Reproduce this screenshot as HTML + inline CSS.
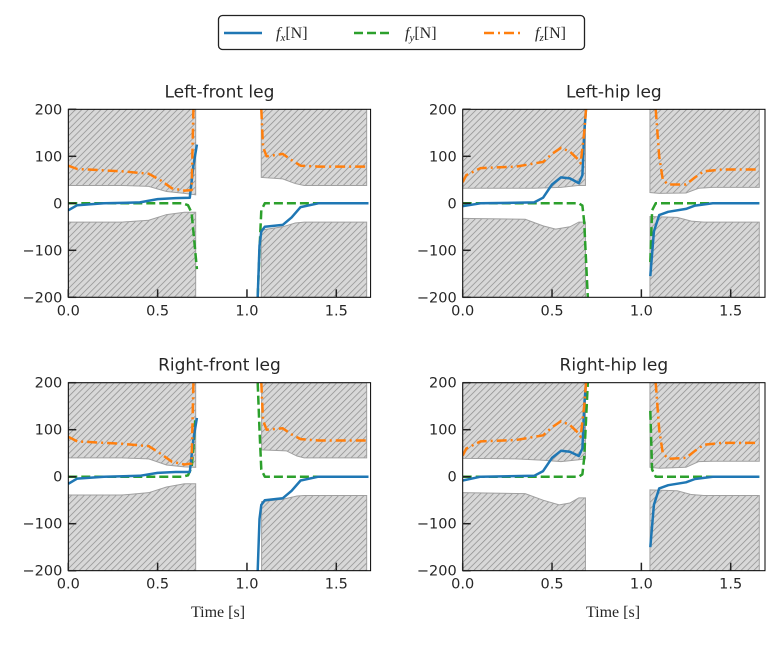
<!DOCTYPE html>
<html><head><meta charset="utf-8"><style>
body{margin:0;background:#fff}
svg text{font-family:"DejaVu Sans","Liberation Sans",sans-serif;fill:#262626}
.ser{font-family:"Liberation Serif","DejaVu Serif",serif}
</style></head><body>
<svg id="fig" width="781" height="642" viewBox="0 0 781 642" xmlns="http://www.w3.org/2000/svg">
<defs>
<pattern id="hatch" patternUnits="userSpaceOnUse" width="4.5" height="4.5" patternTransform="rotate(45)">
<rect width="4.5" height="4.5" fill="#d8d8d8"/><line x1="0" y1="0" x2="0" y2="4.5" stroke="#8a8a8a" stroke-width="1.4"/>
</pattern>
</defs>
<g>
<rect x="218.5" y="15.5" width="366" height="34" rx="4" fill="#fff" stroke="#222" stroke-width="1.3"/>
<g><line x1="224" y1="33" x2="262" y2="33" stroke="#1f77b4" stroke-width="2.5"/><text class="ser" x="276" y="38" font-size="16"><tspan font-style="italic">f</tspan><tspan font-style="italic" font-size="11" dy="3">x</tspan><tspan dy="-3">[N]</tspan></text></g>
<g><line x1="354" y1="33" x2="392" y2="33" stroke="#2ca02c" stroke-width="2.5" stroke-dasharray="9,4"/><text class="ser" x="405" y="38" font-size="16"><tspan font-style="italic">f</tspan><tspan font-style="italic" font-size="11" dy="3">y</tspan><tspan dy="-3">[N]</tspan></text></g>
<g><line x1="484" y1="33" x2="522" y2="33" stroke="#ff7f0e" stroke-width="2.5" stroke-dasharray="10,4,2,4"/><text class="ser" x="535" y="38" font-size="16"><tspan font-style="italic">f</tspan><tspan font-style="italic" font-size="11" dy="3">z</tspan><tspan dy="-3">[N]</tspan></text></g>
</g>
<text class="ser" x="218" y="617" font-size="16" text-anchor="middle">Time [s]</text>
<text class="ser" x="613" y="617" font-size="16" text-anchor="middle">Time [s]</text>
</svg>
<script>
// ---- data (time [s], force [N]) ----
const xTicks = [0, 0.5, 1.0, 1.5];
const xTickLabels = ["0.0", "0.5", "1.0", "1.5"];
const yTicks = [-200, -100, 0, 100, 200];
const yTickLabels = ["\u2212200", "\u2212100", "0", "100", "200"];
const titles = ["Left-front leg", "Left-hip leg", "Right-front leg", "Right-hip leg"];

const lfUp1 = [[0,38],[0.3,38],[0.45,36],[0.55,25],[0.65,21],[0.713,18]];
const lfLo1 = [[0,-40],[0.3,-40],[0.45,-36],[0.55,-24],[0.65,-19],[0.713,-19]];
const lfUp2 = [[1.08,55],[1.2,52],[1.27,42],[1.32,38],[1.67,38]];
const lfLo2 = [[1.08,-57],[1.2,-50],[1.27,-42],[1.32,-40],[1.67,-40]];
const lfFx = [[0,-15],[0.05,-4],[0.2,0],[0.4,2],[0.5,9],[0.6,11],[0.68,12],[0.7,80],[0.72,125],[null,null],[1.06,-200],[1.07,-90],[1.08,-60],[1.1,-50],[1.2,-46],[1.25,-30],[1.3,-8],[1.4,0],[1.68,0]];
const lfFy = [[0,0],[0.64,0],[0.67,-4],[0.69,-20],[0.7,-60],[0.72,-140],[null,null],[1.06,-200],[1.07,-100],[1.08,-15],[1.1,0],[1.68,0]];
const lfFz = [[0,80],[0.05,73],[0.3,68],[0.45,63],[0.52,48],[0.58,32],[0.65,27],[0.69,28],[0.7,200],[null,null],[1.08,200],[1.09,120],[1.11,100],[1.2,105],[1.25,92],[1.3,80],[1.4,78],[1.68,78]];

const lhUp1 = [[0,32],[0.4,32],[0.55,34],[0.65,38],[0.687,38]];
const lhLo1 = [[0,-32],[0.35,-34],[0.45,-48],[0.52,-55],[0.6,-50],[0.65,-40],[0.687,-40]];
const lhUp2 = [[1.048,23],[1.1,21],[1.25,22],[1.32,32],[1.4,34],[1.66,34]];
const lhLo2 = [[1.048,-28],[1.2,-30],[1.28,-38],[1.35,-40],[1.66,-40]];
const lhFx = [[0,-6],[0.1,0],[0.4,2],[0.45,12],[0.5,40],[0.55,55],[0.6,53],[0.65,43],[0.67,60],[0.68,150],[0.69,200],[null,null],[1.05,-155],[1.07,-60],[1.1,-25],[1.15,-18],[1.25,-12],[1.3,-5],[1.4,0],[1.66,0]];
const lhFy = [[0,0],[0.65,0],[0.67,-5],[0.68,-40],[0.69,-120],[0.7,-200],[null,null],[1.05,-125],[1.06,-15],[1.08,0],[1.66,0]];
const lhFz = [[0,45],[0.02,60],[0.1,75],[0.3,78],[0.45,88],[0.5,105],[0.55,118],[0.6,110],[0.65,92],[0.66,85],[0.68,150],[0.69,200],[null,null],[1.08,200],[1.1,100],[1.12,50],[1.15,40],[1.25,40],[1.3,55],[1.35,68],[1.45,72],[1.66,72]];

const rfUp1 = [[0,40],[0.3,40],[0.45,38],[0.55,25],[0.65,21],[0.713,20]];
const rfLo1 = [[0,-39],[0.3,-39],[0.45,-34],[0.55,-22],[0.65,-15],[0.713,-15]];
const rfUp2 = [[1.082,57],[1.22,55],[1.28,44],[1.32,40],[1.67,40]];
const rfLo2 = [[1.082,-53],[1.2,-48],[1.28,-41],[1.32,-40],[1.67,-40]];
const rfFx = [[0,-15],[0.05,-4],[0.2,0],[0.4,2],[0.5,8],[0.6,10],[0.68,10],[0.7,80],[0.72,125],[null,null],[1.06,-200],[1.07,-90],[1.08,-60],[1.1,-50],[1.2,-46],[1.25,-30],[1.3,-8],[1.4,0],[1.68,0]];
const rfFy = [[0,0],[0.64,0],[0.67,3],[0.69,20],[0.7,60],[0.71,120],[null,null],[1.06,200],[1.07,100],[1.08,15],[1.1,0],[1.68,0]];
const rfFz = [[0,85],[0.05,75],[0.3,70],[0.45,65],[0.52,48],[0.58,32],[0.65,26],[0.69,28],[0.7,200],[null,null],[1.08,200],[1.09,120],[1.11,100],[1.2,103],[1.25,90],[1.3,80],[1.4,77],[1.68,77]];

const rhUp1 = [[0,39],[0.3,38],[0.45,35],[0.55,32],[0.65,36],[0.687,38]];
const rhLo1 = [[0,-34],[0.35,-36],[0.45,-50],[0.54,-60],[0.6,-56],[0.65,-45],[0.687,-45]];
const rhUp2 = [[1.048,20],[1.1,18],[1.25,20],[1.32,32],[1.4,33],[1.66,33]];
const rhLo2 = [[1.048,-28],[1.2,-30],[1.28,-38],[1.35,-40],[1.66,-40]];
const rhFx = [[0,-8],[0.1,0],[0.4,2],[0.45,12],[0.5,40],[0.55,55],[0.6,53],[0.65,44],[0.67,60],[0.68,150],[0.69,200],[null,null],[1.05,-150],[1.07,-60],[1.1,-25],[1.15,-18],[1.25,-12],[1.3,-5],[1.4,0],[1.66,0]];
const rhFy = [[0,0],[0.65,0],[0.67,5],[0.68,40],[0.69,120],[0.7,200],[null,null],[1.05,140],[1.06,15],[1.08,0],[1.66,0]];
const rhFz = [[0,45],[0.02,60],[0.1,75],[0.3,78],[0.45,88],[0.5,105],[0.55,118],[0.6,110],[0.65,92],[0.66,85],[0.68,150],[0.69,200],[null,null],[1.08,200],[1.1,100],[1.12,50],[1.15,38],[1.25,40],[1.3,55],[1.35,68],[1.45,72],[1.66,72]];

const panels = [
  {x0:68.3, y0:109.3, up:[lfUp1,lfUp2], lo:[lfLo1,lfLo2], fx:lfFx, fy:lfFy, fz:lfFz, name:"left-front"},
  {x0:462.7, y0:109.3, up:[lhUp1,lhUp2], lo:[lhLo1,lhLo2], fx:lhFx, fy:lhFy, fz:lhFz, name:"left-hip"},
  {x0:68.3, y0:382.7, up:[rfUp1,rfUp2], lo:[rfLo1,rfLo2], fx:rfFx, fy:rfFy, fz:rfFz, name:"right-front"},
  {x0:462.7, y0:382.7, up:[rhUp1,rhUp2], lo:[rhLo1,rhLo2], fx:rhFx, fy:rhFy, fz:rhFz, name:"right-hip"}
];
const XMAX = 1.692, YMIN = -200, YMAX = 200, W = 302.3, H = 188;
const NS = "http://www.w3.org/2000/svg";
const svg = document.getElementById("fig");
function mk(tag, attrs, parent){ const e=document.createElementNS(NS,tag); for(const k in attrs) e.setAttribute(k,attrs[k]); parent.appendChild(e); return e; }

panels.forEach((p, i) => {
  const sx = t => p.x0 + t / XMAX * W;
  const sy = v => p.y0 + (YMAX - v) / (YMAX - YMIN) * H;
  const g = mk("g", {}, svg);
  
  
  const cp = mk("clipPath", {id:"clip"+i}, g);
  mk("rect", {x:p.x0, y:p.y0, width:W, height:H}, cp);
  const inner = mk("g", {"clip-path":"url(#clip"+i+")"}, g);
  p.up.forEach((b, k) => {
    let d = "M" + sx(b[0][0]) + "," + sy(YMAX);
    b.forEach(q => d += " L" + sx(q[0]) + "," + sy(q[1]));
    d += " L" + sx(b[b.length-1][0]) + "," + sy(YMAX) + " Z";
    const e = mk("path", {d:d, fill:"url(#hatch)", stroke:"#a0a0a0", "stroke-width":1}, inner);
    
    
  });
  p.lo.forEach((b, k) => {
    let d = "M" + sx(b[0][0]) + "," + sy(YMIN);
    b.forEach(q => d += " L" + sx(q[0]) + "," + sy(q[1]));
    d += " L" + sx(b[b.length-1][0]) + "," + sy(YMIN) + " Z";
    const e = mk("path", {d:d, fill:"url(#hatch)", stroke:"#a0a0a0", "stroke-width":1}, inner);
    
    
  });
  const series = [[p.fy,"#2ca02c","9,4","fy-line"],[p.fx,"#1f77b4","","fx-line"],[p.fz,"#ff7f0e","10,4,2,4","fz-line"]];
  series.forEach(s => {
    let d = "", pen = "M";
    s[0].forEach(q => { if (q[0] === null) { pen = "M"; return; } d += pen + sx(q[0]).toFixed(1) + "," + sy(q[1]).toFixed(1) + " "; pen = "L"; });
    const e = mk("path", {d:d, fill:"none", stroke:s[1], "stroke-width":2.5, "stroke-dasharray":s[2], "stroke-linejoin":"round"}, inner);
    
    
  });
  const fr = mk("rect", {x:p.x0, y:p.y0, width:W, height:H, fill:"none", stroke:"#000", "stroke-width":1}, g);
  
  
  xTicks.forEach((t, k) => {
    mk("line", {x1:sx(t), x2:sx(t), y1:p.y0+H, y2:p.y0+H-8, stroke:"#222", "stroke-width":1.5}, g);
    const tx = mk("text", {x:sx(t), y:p.y0+H+18, "font-size":14.5, "text-anchor":"middle"}, g);
    tx.textContent = xTickLabels[k];
    
    
  });
  yTicks.forEach((v, k) => {
    mk("line", {x1:p.x0, x2:p.x0+8, y1:sy(v), y2:sy(v), stroke:"#222", "stroke-width":1.5}, g);
    const tx = mk("text", {x:p.x0-6, y:sy(v)+5, "font-size":14.5, "text-anchor":"end"}, g);
    tx.textContent = yTickLabels[k];
    
    
  });
  const tt = mk("text", {x:p.x0+W/2, y:p.y0-12, "font-size":17, "text-anchor":"middle"}, g);
  tt.textContent = titles[i];
  
  
});
</script>
</body></html>
